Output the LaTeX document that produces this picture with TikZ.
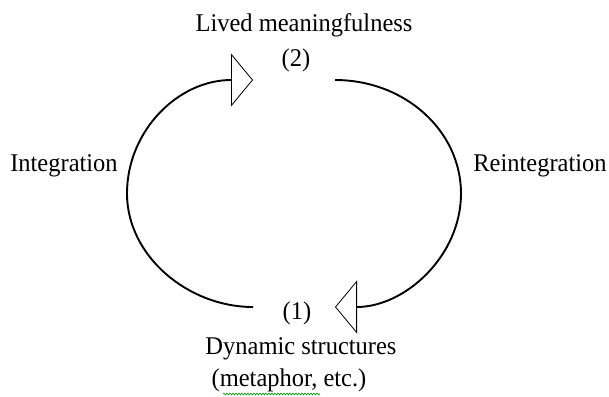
\documentclass[tikz,border=0pt]{standalone}
\usepackage{fontspec}
\setmainfont[FakeStretch=0.96]{Liberation Serif}
\usetikzlibrary{arrows.meta,decorations.pathmorphing}
\begin{document}
\begin{tikzpicture}[x=1pt,y=-1pt,
  lbl/.style={anchor=base,inner sep=0pt,font=\fontsize{25.5}{29}\selectfont},
  loopline/.style={line width=1.9pt,-{Triangle[open,length=22pt,width=53pt,line width=0.8pt]}},
  squiggle/.style={draw=green!60!black,line width=0.6pt,decorate,decoration={snake,amplitude=1pt,segment length=3pt}}
]
\useasboundingbox (0,0) rectangle (609,396);
\node[lbl] (lived) at (304,32) {Lived meaningfulness};
\node[lbl] (two) at (296,66) {(2)};
\node[lbl] (one) at (297,319) {(1)};
\node[lbl] (dyn) at (301,354) {Dynamic structures};
\node[lbl] (meta) at (289,386) {(metaphor, etc.)};
\node[lbl] (integ) at (64,171) {Integration};
\node[lbl] (reinteg) at (540,171) {Reintegration};
\coordinate (lstart) at (253,307);
\coordinate (ltip) at (253,80);
\coordinate (rstart) at (335,80);
\coordinate (rtip) at (335,307);
\coordinate (sqa) at (223,394);
\coordinate (sqb) at (320,394);
\draw[loopline] (lstart) .. controls (188,307) and (127,256) .. (127,193.5)
  .. controls (127,131) and (178,80) .. (ltip);
\draw[loopline] (rstart) .. controls (405,80) and (461,131) .. (461,193.5)
  .. controls (461,256) and (405,307) .. (rtip);
\draw[squiggle] (sqa) -- (sqb);
\end{tikzpicture}
\end{document}
